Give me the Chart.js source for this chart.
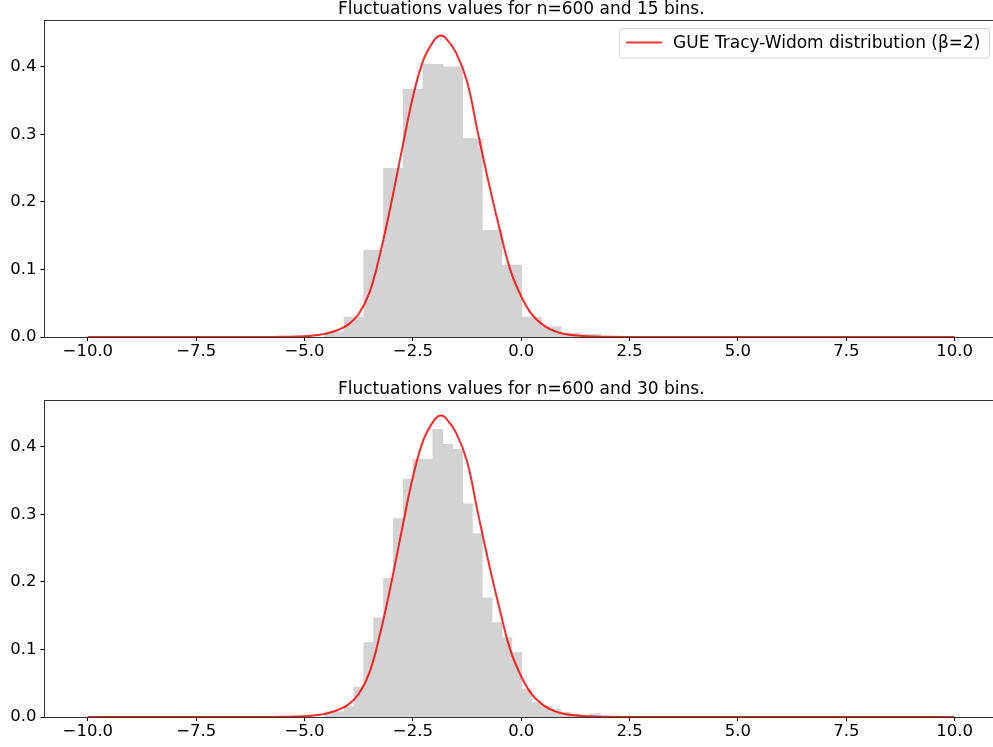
<!DOCTYPE html>
<html>
<head>
<meta charset="utf-8">
<script src="https://cdn.jsdelivr.net/npm/chart.js@4/dist/chart.umd.min.js"></script>
<style>
  html, body { margin: 0; padding: 0; background: #fff; overflow: hidden; }
  canvas { position: absolute; left: 0; }
</style>
</head>
<body>
<canvas id="hist15" width="1000" height="370" style="top:0px"></canvas>
<canvas id="hist30" width="1000" height="370" style="top:380px"></canvas>
<script>
// axis ticks
const xTicks = [-10, -7.5, -5, -2.5, 0, 2.5, 5, 7.5, 10];
const yTicks = [0, 0.1, 0.2, 0.3, 0.4];

// 15-bin histogram (density)
const edges15 = [-4.539, -4.084, -3.630, -3.175, -2.721, -2.266, -1.811, -1.357, -0.902,
                 -0.448, 0.007, 0.461, 0.916, 1.370, 1.825, 2.280];
const density15 = [0.0073, 0.0293, 0.1283, 0.2493, 0.3666, 0.4033, 0.3996, 0.2933,
                   0.1576, 0.1063, 0.0293, 0.0147, 0.0055, 0.0037, 0];

// 30-bin histogram (density)
const edges30 = [-4.539, -4.312, -4.084, -3.857, -3.630, -3.402, -3.175, -2.948, -2.721,
                 -2.493, -2.266, -2.039, -1.811, -1.584, -1.357, -1.130, -0.902, -0.675,
                 -0.448, -0.220, 0.007, 0.234, 0.461, 0.689, 0.916, 1.143, 1.370, 1.598,
                 1.825, 2.052, 2.280];
const density30 = [0.0073, 0.0073, 0.0147, 0.0440, 0.1100, 0.1466, 0.2053, 0.2933,
                   0.3519, 0.3813, 0.3813, 0.4253, 0.4033, 0.3959, 0.3153, 0.2713,
                   0.1760, 0.1393, 0.1173, 0.0953, 0.0410, 0.0215, 0.0160, 0.0110,
                   0.0065, 0.0040, 0, 0.0045, 0, 0];

// GUE Tracy-Widom density curve
const twX = [-10, -9, -8, -7, -6, -5.5, -5, -4.75, -4.5, -4.25, -4, -3.75, -3.5, -3.25,
             -3, -2.75, -2.5, -2.25, -2, -1.875, -1.75, -1.5, -1.25, -1, -0.75, -0.5,
             -0.25, 0, 0.25, 0.5, 0.75, 1, 1.5, 2, 2.5, 3, 4, 5, 6, 7, 8, 9, 10];
const twY = [0, 0, 0, 0, 0, 0.0003, 0.001, 0.0025, 0.005, 0.010, 0.018, 0.034, 0.066,
             0.125, 0.198, 0.278, 0.355, 0.411, 0.440, 0.446, 0.443, 0.420, 0.378,
             0.302, 0.228, 0.160, 0.099, 0.060, 0.033, 0.018, 0.009, 0.0045, 0.0012,
             0.0003, 0, 0, 0, 0, 0, 0, 0, 0, 0];

const legendLabel = 'GUE Tracy-Widom distribution (\u03b2=2)';
const fontFamily = '"DejaVu Sans", sans-serif';

function fmt(v) {
  return (v < 0 ? '\u2212' : '') + Math.abs(v).toFixed(1);
}

// spines, title and legend
const framePlugin = {
  id: 'frame',
  afterDraw(chart, args, opts) {
    const ctx = chart.ctx;
    const a = chart.chartArea;
    ctx.save();
    ctx.strokeStyle = '#333';
    ctx.lineWidth = 1;
    const l = Math.floor(a.left) + 0.5, t = Math.floor(a.top) + 0.5, b = Math.floor(a.bottom) + 0.5;
    ctx.strokeRect(l, t, a.right - l, b - t);

    ctx.fillStyle = '#000';
    ctx.font = '17px ' + fontFamily;
    ctx.textAlign = 'center';
    ctx.textBaseline = 'alphabetic';
    ctx.fillText(opts.title, (a.left + a.right) / 2, a.top - 6.5);

    if (opts.legend) {
      const w = ctx.measureText(opts.legend).width;
      const boxR = a.right - 8.5, boxT = a.top + 8.5, boxH = 29.5;
      const textX = boxR - 9 - w;
      const lineX0 = textX - 47, lineX1 = textX - 11;
      const boxL = lineX0 - 6.5;
      ctx.beginPath();
      if (ctx.roundRect) ctx.roundRect(boxL, boxT, boxR - boxL, boxH, 3);
      else ctx.rect(boxL, boxT, boxR - boxL, boxH);
      ctx.fillStyle = 'rgba(255,255,255,0.8)';
      ctx.fill();
      ctx.strokeStyle = '#d6d6d6';
      ctx.stroke();
      ctx.beginPath();
      ctx.moveTo(lineX0, boxT + 14);
      ctx.lineTo(lineX1, boxT + 14);
      ctx.strokeStyle = 'rgba(255,0,0,0.8)';
      ctx.lineWidth = 2;
      ctx.stroke();
      ctx.fillStyle = '#000';
      ctx.textAlign = 'left';
      ctx.textBaseline = 'middle';
      ctx.fillText(opts.legend, textX, boxT + 15);
    }
    ctx.restore();
  }
};

function makeChart(id, edges, density, title, legend) {
  const bars = density.map((d, i) => ({ x: (edges[i] + edges[i + 1]) / 2, y: d }));
  const curve = twX.map((x, i) => ({ x: x, y: twY[i] }));
  const tickFont = { family: fontFamily, size: 16.5 };
  const tickGrid = { display: true, offset: false, drawOnChartArea: false, drawTicks: true, tickLength: 4, color: '#000' };

  return new Chart(document.getElementById(id).getContext('2d'), {
    data: {
      datasets: [{
        type: 'line',
        label: legendLabel,
        data: curve,
        borderColor: 'rgba(255,0,0,0.85)',
        borderWidth: 2,
        pointRadius: 0,
        tension: 0.4,
        clip: 4,
        order: 0
      }, {
        type: 'bar',
        label: 'hist',
        data: bars,
        backgroundColor: '#d3d3d3',
        borderWidth: 0,
        inflateAmount: 0.5,
        barPercentage: 1,
        categoryPercentage: 1,
        order: 1
      }]
    },
    options: {
      responsive: false,
      animation: false,
      layout: { padding: { top: 20, right: 2, left: 0, bottom: 0 } },
      scales: {
        x: {
          type: 'linear',
          min: -11,
          max: 11,
          offset: false,
          grid: tickGrid,
          border: { display: false },
          ticks: { font: tickFont, color: '#000', padding: 1, maxRotation: 0, autoSkip: false, callback: fmt },
          afterBuildTicks: s => { s.ticks = xTicks.map(v => ({ value: v })); },
          afterFit: s => { s.height = 33; }
        },
        y: {
          min: 0,
          max: 0.469,
          grid: tickGrid,
          border: { display: false },
          ticks: { font: tickFont, color: '#000', padding: 4, callback: fmt },
          afterBuildTicks: s => { s.ticks = yTicks.map(v => ({ value: v })); },
          afterFit: s => { s.width = 44.5; }
        }
      },
      plugins: {
        legend: { display: false },
        tooltip: { enabled: false },
        frame: { title: title, legend: legend }
      }
    },
    plugins: [framePlugin]
  });
}

makeChart('hist15', edges15, density15, 'Fluctuations values for n=600 and 15 bins.', legendLabel);
makeChart('hist30', edges30, density30, 'Fluctuations values for n=600 and 30 bins.', null);
</script>
</body>
</html>
